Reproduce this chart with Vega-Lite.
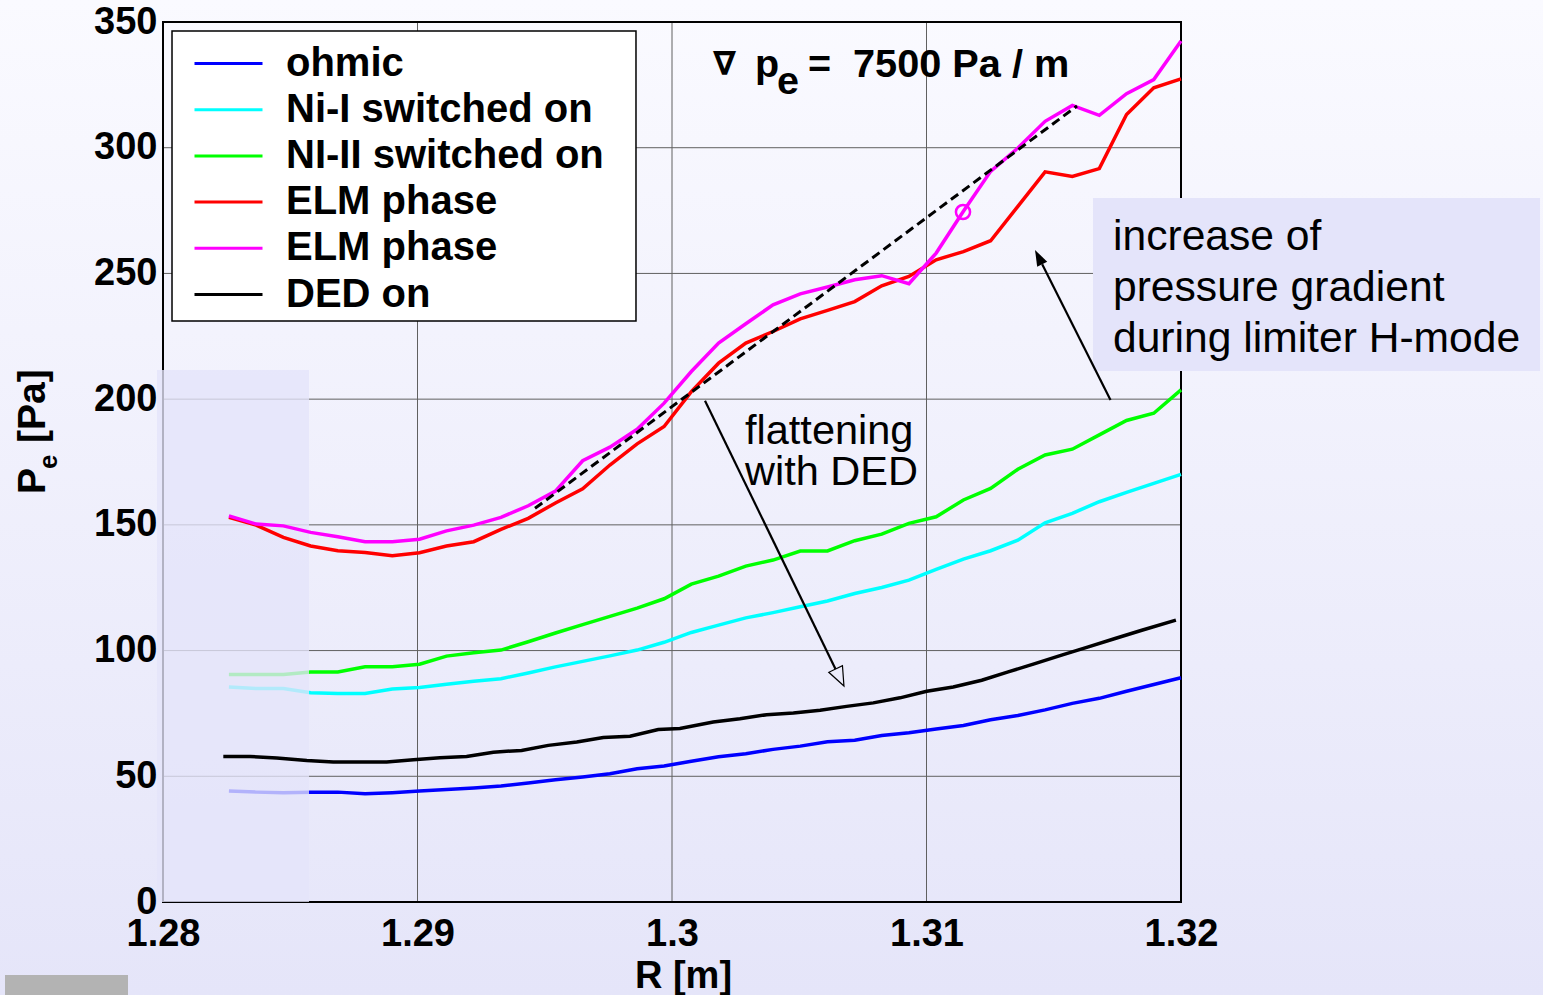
{
  "$schema": "https://vega.github.io/schema/vega-lite/v6.json",
  "width": 1018,
  "height": 880,
  "autosize": {"type": "none"},
  "padding": {"left": 163, "top": 22, "right": 362, "bottom": 93},
  "background": "#E6E6FA",
  "config": {
    "view": {"stroke": null},
    "font": "Liberation Sans",
    "axis": {
      "grid": false, "domain": false, "ticks": false,
      "labelFont": "Liberation Sans", "labelFontSize": 38, "labelFontWeight": "bold", "labelColor": "#000",
      "titleFont": "Liberation Sans", "titleFontSize": 38, "titleFontWeight": "bold", "titleColor": "#000"
    }
  },
  "data": {"values": [{}]},
  "datasets": {
    "curves": [
      {"s":"ohmic","R":1.28259,"P":44.1},{"s":"ohmic","R":1.28366,"P":43.7},{"s":"ohmic","R":1.28473,"P":43.5},{"s":"ohmic","R":1.2858,"P":43.7},{"s":"ohmic","R":1.28687,"P":43.7},{"s":"ohmic","R":1.28794,"P":43.1},{"s":"ohmic","R":1.28901,"P":43.5},{"s":"ohmic","R":1.29008,"P":44.1},{"s":"ohmic","R":1.29114,"P":44.7},{"s":"ohmic","R":1.29221,"P":45.3},{"s":"ohmic","R":1.29328,"P":46.1},{"s":"ohmic","R":1.29435,"P":47.3},{"s":"ohmic","R":1.29542,"P":48.6},{"s":"ohmic","R":1.29649,"P":49.7},{"s":"ohmic","R":1.29756,"P":51.0},{"s":"ohmic","R":1.29863,"P":53.0},{"s":"ohmic","R":1.29969,"P":54.1},{"s":"ohmic","R":1.30076,"P":56.0},{"s":"ohmic","R":1.30183,"P":57.8},{"s":"ohmic","R":1.3029,"P":59.0},{"s":"ohmic","R":1.30397,"P":60.7},{"s":"ohmic","R":1.30504,"P":62.0},{"s":"ohmic","R":1.30611,"P":63.7},{"s":"ohmic","R":1.30718,"P":64.3},{"s":"ohmic","R":1.30824,"P":66.2},{"s":"ohmic","R":1.30931,"P":67.3},{"s":"ohmic","R":1.31038,"P":68.8},{"s":"ohmic","R":1.31145,"P":70.2},{"s":"ohmic","R":1.31252,"P":72.5},{"s":"ohmic","R":1.31359,"P":74.2},{"s":"ohmic","R":1.31466,"P":76.4},{"s":"ohmic","R":1.31573,"P":79.0},{"s":"ohmic","R":1.31679,"P":81.0},{"s":"ohmic","R":1.31786,"P":83.8},{"s":"ohmic","R":1.31893,"P":86.5},{"s":"ohmic","R":1.32,"P":89.2},
      {"s":"Ni-I switched on","R":1.28259,"P":85.5},{"s":"Ni-I switched on","R":1.28366,"P":84.9},{"s":"Ni-I switched on","R":1.28473,"P":84.9},{"s":"Ni-I switched on","R":1.2858,"P":83.2},{"s":"Ni-I switched on","R":1.28687,"P":82.9},{"s":"Ni-I switched on","R":1.28794,"P":82.9},{"s":"Ni-I switched on","R":1.28901,"P":84.7},{"s":"Ni-I switched on","R":1.29008,"P":85.3},{"s":"Ni-I switched on","R":1.29114,"P":86.6},{"s":"Ni-I switched on","R":1.29221,"P":87.8},{"s":"Ni-I switched on","R":1.29328,"P":88.8},{"s":"Ni-I switched on","R":1.29435,"P":91.1},{"s":"Ni-I switched on","R":1.29542,"P":93.5},{"s":"Ni-I switched on","R":1.29649,"P":95.7},{"s":"Ni-I switched on","R":1.29756,"P":97.9},{"s":"Ni-I switched on","R":1.29863,"P":100.2},{"s":"Ni-I switched on","R":1.29969,"P":103.3},{"s":"Ni-I switched on","R":1.30076,"P":107.2},{"s":"Ni-I switched on","R":1.30183,"P":110.1},{"s":"Ni-I switched on","R":1.3029,"P":113.0},{"s":"Ni-I switched on","R":1.30397,"P":115.1},{"s":"Ni-I switched on","R":1.30504,"P":117.4},{"s":"Ni-I switched on","R":1.30611,"P":119.7},{"s":"Ni-I switched on","R":1.30718,"P":122.7},{"s":"Ni-I switched on","R":1.30824,"P":125.1},{"s":"Ni-I switched on","R":1.30931,"P":128.0},{"s":"Ni-I switched on","R":1.31038,"P":132.3},{"s":"Ni-I switched on","R":1.31145,"P":136.4},{"s":"Ni-I switched on","R":1.31252,"P":139.7},{"s":"Ni-I switched on","R":1.31359,"P":143.9},{"s":"Ni-I switched on","R":1.31466,"P":150.8},{"s":"Ni-I switched on","R":1.31573,"P":154.6},{"s":"Ni-I switched on","R":1.31679,"P":159.2},{"s":"Ni-I switched on","R":1.31786,"P":162.9},{"s":"Ni-I switched on","R":1.31893,"P":166.5},{"s":"Ni-I switched on","R":1.32,"P":170.1},
      {"s":"NI-II switched on","R":1.28259,"P":90.5},{"s":"NI-II switched on","R":1.28366,"P":90.5},{"s":"NI-II switched on","R":1.28473,"P":90.5},{"s":"NI-II switched on","R":1.2858,"P":91.5},{"s":"NI-II switched on","R":1.28687,"P":91.5},{"s":"NI-II switched on","R":1.28794,"P":93.6},{"s":"NI-II switched on","R":1.28901,"P":93.6},{"s":"NI-II switched on","R":1.29008,"P":94.6},{"s":"NI-II switched on","R":1.29114,"P":97.8},{"s":"NI-II switched on","R":1.29221,"P":99.1},{"s":"NI-II switched on","R":1.29328,"P":100.2},{"s":"NI-II switched on","R":1.29435,"P":103.5},{"s":"NI-II switched on","R":1.29542,"P":107.0},{"s":"NI-II switched on","R":1.29649,"P":110.3},{"s":"NI-II switched on","R":1.29756,"P":113.6},{"s":"NI-II switched on","R":1.29863,"P":116.9},{"s":"NI-II switched on","R":1.29969,"P":120.6},{"s":"NI-II switched on","R":1.30076,"P":126.4},{"s":"NI-II switched on","R":1.30183,"P":129.6},{"s":"NI-II switched on","R":1.3029,"P":133.6},{"s":"NI-II switched on","R":1.30397,"P":136.0},{"s":"NI-II switched on","R":1.30504,"P":139.6},{"s":"NI-II switched on","R":1.30611,"P":139.6},{"s":"NI-II switched on","R":1.30718,"P":143.7},{"s":"NI-II switched on","R":1.30824,"P":146.3},{"s":"NI-II switched on","R":1.30931,"P":150.6},{"s":"NI-II switched on","R":1.31038,"P":153.2},{"s":"NI-II switched on","R":1.31145,"P":159.9},{"s":"NI-II switched on","R":1.31252,"P":164.5},{"s":"NI-II switched on","R":1.31359,"P":172.1},{"s":"NI-II switched on","R":1.31466,"P":177.8},{"s":"NI-II switched on","R":1.31573,"P":180.1},{"s":"NI-II switched on","R":1.31679,"P":185.8},{"s":"NI-II switched on","R":1.31786,"P":191.5},{"s":"NI-II switched on","R":1.31893,"P":194.4},{"s":"NI-II switched on","R":1.32,"P":203.7},
      {"s":"ELM phase (1)","R":1.28259,"P":153.0},{"s":"ELM phase (1)","R":1.28366,"P":149.9},{"s":"ELM phase (1)","R":1.28473,"P":145.0},{"s":"ELM phase (1)","R":1.2858,"P":141.6},{"s":"ELM phase (1)","R":1.28687,"P":139.7},{"s":"ELM phase (1)","R":1.28794,"P":139.0},{"s":"ELM phase (1)","R":1.28901,"P":137.7},{"s":"ELM phase (1)","R":1.29008,"P":138.9},{"s":"ELM phase (1)","R":1.29114,"P":141.6},{"s":"ELM phase (1)","R":1.29221,"P":143.3},{"s":"ELM phase (1)","R":1.29328,"P":148.2},{"s":"ELM phase (1)","R":1.29435,"P":152.6},{"s":"ELM phase (1)","R":1.29542,"P":158.7},{"s":"ELM phase (1)","R":1.29649,"P":164.3},{"s":"ELM phase (1)","R":1.29756,"P":173.8},{"s":"ELM phase (1)","R":1.29863,"P":182.2},{"s":"ELM phase (1)","R":1.29969,"P":189.1},{"s":"ELM phase (1)","R":1.30076,"P":203.0},{"s":"ELM phase (1)","R":1.30183,"P":214.3},{"s":"ELM phase (1)","R":1.3029,"P":222.3},{"s":"ELM phase (1)","R":1.30397,"P":226.9},{"s":"ELM phase (1)","R":1.30504,"P":231.9},{"s":"ELM phase (1)","R":1.30611,"P":235.3},{"s":"ELM phase (1)","R":1.30718,"P":238.8},{"s":"ELM phase (1)","R":1.30824,"P":245.1},{"s":"ELM phase (1)","R":1.30931,"P":248.8},{"s":"ELM phase (1)","R":1.31038,"P":255.4},{"s":"ELM phase (1)","R":1.31145,"P":258.7},{"s":"ELM phase (1)","R":1.31252,"P":263.0},{"s":"ELM phase (1)","R":1.31359,"P":276.7},{"s":"ELM phase (1)","R":1.31466,"P":290.4},{"s":"ELM phase (1)","R":1.31573,"P":288.6},{"s":"ELM phase (1)","R":1.31679,"P":291.7},{"s":"ELM phase (1)","R":1.31786,"P":313.2},{"s":"ELM phase (1)","R":1.31893,"P":323.8},{"s":"ELM phase (1)","R":1.32,"P":327.4},
      {"s":"ELM phase (2)","R":1.28259,"P":153.6},{"s":"ELM phase (2)","R":1.28366,"P":150.3},{"s":"ELM phase (2)","R":1.28473,"P":149.6},{"s":"ELM phase (2)","R":1.2858,"P":147.0},{"s":"ELM phase (2)","R":1.28687,"P":145.3},{"s":"ELM phase (2)","R":1.28794,"P":143.3},{"s":"ELM phase (2)","R":1.28901,"P":143.3},{"s":"ELM phase (2)","R":1.29008,"P":144.3},{"s":"ELM phase (2)","R":1.29114,"P":147.6},{"s":"ELM phase (2)","R":1.29221,"P":149.9},{"s":"ELM phase (2)","R":1.29328,"P":153.0},{"s":"ELM phase (2)","R":1.29435,"P":157.6},{"s":"ELM phase (2)","R":1.29542,"P":163.4},{"s":"ELM phase (2)","R":1.29649,"P":175.5},{"s":"ELM phase (2)","R":1.29756,"P":180.9},{"s":"ELM phase (2)","R":1.29863,"P":188.0},{"s":"ELM phase (2)","R":1.29969,"P":198.4},{"s":"ELM phase (2)","R":1.30076,"P":211.0},{"s":"ELM phase (2)","R":1.30183,"P":222.3},{"s":"ELM phase (2)","R":1.3029,"P":230.0},{"s":"ELM phase (2)","R":1.30397,"P":237.5},{"s":"ELM phase (2)","R":1.30504,"P":241.9},{"s":"ELM phase (2)","R":1.30611,"P":244.6},{"s":"ELM phase (2)","R":1.30718,"P":247.5},{"s":"ELM phase (2)","R":1.30824,"P":249.1},{"s":"ELM phase (2)","R":1.30931,"P":245.9},{"s":"ELM phase (2)","R":1.31038,"P":258.1},{"s":"ELM phase (2)","R":1.31145,"P":274.7},{"s":"ELM phase (2)","R":1.31252,"P":290.6},{"s":"ELM phase (2)","R":1.31359,"P":299.9},{"s":"ELM phase (2)","R":1.31466,"P":310.5},{"s":"ELM phase (2)","R":1.31573,"P":316.8},{"s":"ELM phase (2)","R":1.31679,"P":312.9},{"s":"ELM phase (2)","R":1.31786,"P":321.5},{"s":"ELM phase (2)","R":1.31893,"P":327.1},{"s":"ELM phase (2)","R":1.32,"P":342.4},
      {"s":"DED on","R":1.28237,"P":57.9},{"s":"DED on","R":1.28342,"P":57.9},{"s":"DED on","R":1.28447,"P":57.3},{"s":"DED on","R":1.28565,"P":56.3},{"s":"DED on","R":1.28669,"P":55.7},{"s":"DED on","R":1.28774,"P":55.7},{"s":"DED on","R":1.28879,"P":55.7},{"s":"DED on","R":1.28984,"P":56.6},{"s":"DED on","R":1.29088,"P":57.4},{"s":"DED on","R":1.29193,"P":57.9},{"s":"DED on","R":1.29298,"P":59.6},{"s":"DED on","R":1.29409,"P":60.3},{"s":"DED on","R":1.29514,"P":62.3},{"s":"DED on","R":1.29626,"P":63.6},{"s":"DED on","R":1.2973,"P":65.4},{"s":"DED on","R":1.29835,"P":65.9},{"s":"DED on","R":1.29946,"P":68.6},{"s":"DED on","R":1.30031,"P":69.0},{"s":"DED on","R":1.30162,"P":71.6},{"s":"DED on","R":1.30267,"P":72.9},{"s":"DED on","R":1.30372,"P":74.5},{"s":"DED on","R":1.30477,"P":75.2},{"s":"DED on","R":1.30582,"P":76.3},{"s":"DED on","R":1.30686,"P":77.8},{"s":"DED on","R":1.30791,"P":79.2},{"s":"DED on","R":1.30896,"P":81.2},{"s":"DED on","R":1.31001,"P":83.8},{"s":"DED on","R":1.31105,"P":85.5},{"s":"DED on","R":1.31217,"P":88.2},{"s":"DED on","R":1.31321,"P":91.5},{"s":"DED on","R":1.31426,"P":94.8},{"s":"DED on","R":1.31531,"P":98.2},{"s":"DED on","R":1.31636,"P":101.5},{"s":"DED on","R":1.31741,"P":104.8},{"s":"DED on","R":1.31846,"P":108.1},{"s":"DED on","R":1.3198,"P":112.1}
    ]
  },
  "layer": [
    {
      "mark": {"type": "rect", "fill": {"gradient": "linear", "x1": 0, "y1": 0, "x2": 0, "y2": 1, "stops": [{"offset": 0, "color": "#FAFAFF"}, {"offset": 1, "color": "#E5E5F9"}]}},
      "encoding": {
        "x": {"datum": 1.273595, "type": "quantitative", "scale": {"domain": [1.28, 1.32], "nice": false, "zero": false},
              "axis": {"zindex": 1, "values": [1.28, 1.29, 1.3, 1.31, 1.32], "format": ".2~f", "labelPadding": 13, "labelFlush": false, "labelOverlap": false,
                       "title": "R [m]", "titleX": 520, "titleY": 85, "titleBaseline": "alphabetic", "titleAlign": "center"}},
        "x2": {"datum": 1.334224},
        "y": {"datum": 358.75, "type": "quantitative", "scale": {"domain": [0, 350], "nice": false, "zero": false},
              "axis": {"zindex": 1, "values": [0, 50, 100, 150, 200, 250, 300, 350], "format": "d", "labelPadding": 6, "labelOverlap": false, "title": null}},
        "y2": {"datum": -36.99}
      }
    },
    {
      "data": {"values": [{"g": 1.29}, {"g": 1.3}, {"g": 1.31}]},
      "mark": {"type": "rule", "color": "#606060", "strokeWidth": 1},
      "encoding": {"x": {"field": "g", "type": "quantitative"}, "y": {"datum": 0}, "y2": {"datum": 350}}
    },
    {
      "data": {"values": [{"h": 50}, {"h": 100}, {"h": 150}, {"h": 200}, {"h": 250}, {"h": 300}]},
      "mark": {"type": "rule", "color": "#606060", "strokeWidth": 1},
      "encoding": {"y": {"field": "h", "type": "quantitative"}, "x": {"datum": 1.28}, "x2": {"datum": 1.32}}
    },
    {
      "mark": {"type": "rect", "filled": false, "stroke": "#000", "strokeWidth": 2},
      "encoding": {"x": {"datum": 1.28}, "x2": {"datum": 1.32}, "y": {"datum": 0}, "y2": {"datum": 350}}
    },
    {
      "data": {"name": "curves"},
      "transform": [{"filter": {"field": "s", "oneOf": ["ohmic", "Ni-I switched on", "NI-II switched on"]}}],
      "mark": {"type": "line", "strokeWidth": 3.5},
      "encoding": {
        "x": {"field": "R", "type": "quantitative"},
        "y": {"field": "P", "type": "quantitative"},
        "color": {"field": "s", "type": "nominal",
          "scale": {"domain": ["ohmic", "Ni-I switched on", "NI-II switched on", "ELM phase (1)", "ELM phase (2)", "DED on"], "range": ["#0000FF", "#00FFFF", "#00FF00", "#FF0000", "#FF00FF", "#000000"]},
          "legend": {"title": null, "orient": "none", "legendX": 45.5, "legendY": 21.5, "symbolType": "M-2,0L2,0", "symbolSize": 1156, "symbolStrokeWidth": 3,
                     "labelFont": "Liberation Sans", "labelFontSize": 40, "labelFontWeight": "bold", "labelColor": "#000", "labelOffset": 37.5,
                     "rowPadding": 6.2, "padding": 0, "labelLimit": 600,
                     "labelExpr": "datum.label == 'ELM phase (1)' || datum.label == 'ELM phase (2)' ? 'ELM phase' : datum.label"}}
      }
    },
    {
      "mark": {"type": "rect", "fill": "#E4E4FA", "opacity": 0.78},
      "encoding": {"x": {"datum": 1.279764}, "x2": {"datum": 1.285737}, "y": {"datum": 0}, "y2": {"datum": 211.59}}
    },
    {
      "data": {"name": "curves"},
      "transform": [{"filter": {"field": "s", "oneOf": ["ELM phase (1)", "ELM phase (2)", "DED on"]}}],
      "mark": {"type": "line", "strokeWidth": 3.5},
      "encoding": {
        "x": {"field": "R", "type": "quantitative"},
        "y": {"field": "P", "type": "quantitative"},
        "color": {"field": "s", "type": "nominal",
          "scale": {"domain": ["ohmic", "Ni-I switched on", "NI-II switched on", "ELM phase (1)", "ELM phase (2)", "DED on"], "range": ["#0000FF", "#00FFFF", "#00FF00", "#FF0000", "#FF00FF", "#000000"]},
          "legend": {"title": null, "orient": "none", "legendX": 45.5, "legendY": 21.5, "symbolType": "M-2,0L2,0", "symbolSize": 1156, "symbolStrokeWidth": 3,
                     "labelFont": "Liberation Sans", "labelFontSize": 40, "labelFontWeight": "bold", "labelColor": "#000", "labelOffset": 37.5,
                     "rowPadding": 6.2, "padding": 0, "labelLimit": 600,
                     "labelExpr": "datum.label == 'ELM phase (1)' || datum.label == 'ELM phase (2)' ? 'ELM phase' : datum.label"}}
      }
    },
    {
      "mark": {"type": "rule", "color": "#000", "strokeWidth": 3, "strokeDash": [9, 5]},
      "encoding": {"x": {"datum": 1.294617}, "y": {"datum": 156.59}, "x2": {"datum": 1.315914}, "y2": {"datum": 316.59}}
    },
    {
      "mark": {"type": "point", "shape": "circle", "size": 200, "filled": false, "stroke": "#FF00FF", "strokeWidth": 2.5, "opacity": 1},
      "encoding": {"x": {"datum": 1.311434}, "y": {"datum": 274.43}}
    },
    {
      "mark": {"type": "rect", "fill": "#FFFFFF", "stroke": "#000", "strokeWidth": 1.5},
      "encoding": {"x": {"datum": 1.280354}, "x2": {"datum": 1.298585}, "y": {"datum": 346.42}, "y2": {"datum": 231.08}}
    },
    {
      "mark": {"type": "rule", "color": "#000", "strokeWidth": 2.2},
      "encoding": {"x": {"datum": 1.301297}, "y": {"datum": 199.38}, "x2": {"datum": 1.306424}, "y2": {"datum": 92.67}}
    },
    {
      "mark": {"type": "point", "shape": "M0,-1L-0.8,1L0.8,1Z", "size": 361, "angle": 154, "filled": false, "stroke": "#000", "strokeWidth": 1.2, "opacity": 1},
      "encoding": {"x": {"datum": 1.306593}, "y": {"datum": 89.29}}
    },
    {
      "mark": {"type": "rect", "fill": "#E4E4FA"},
      "encoding": {"x": {"datum": 1.316542}, "x2": {"datum": 1.334106}, "y": {"datum": 280.0}, "y2": {"datum": 211.19}}
    },
    {
      "mark": {"type": "rule", "color": "#000", "strokeWidth": 2.2},
      "encoding": {"x": {"datum": 1.31723}, "y": {"datum": 199.66}, "x2": {"datum": 1.314546}, "y2": {"datum": 253.63}}
    },
    {
      "mark": {"type": "point", "shape": "M0,-1L-0.7,1L0.7,1Z", "size": 256, "angle": 333.3, "filled": true, "fill": "#000", "opacity": 1},
      "encoding": {"x": {"datum": 1.314405}, "y": {"datum": 256.49}}
    },
    {
      "mark": {"type": "text", "text": ["flattening", "with DED"], "align": "left", "baseline": "alphabetic", "font": "Liberation Sans", "fontSize": 41.5, "lineHeight": 41, "color": "#000"},
      "encoding": {"x": {"datum": 1.302868}, "y": {"datum": 182.16}}
    },
    {
      "mark": {"type": "text", "text": ["increase of", "pressure gradient", "during limiter H-mode"], "align": "left", "baseline": "alphabetic", "font": "Liberation Sans", "fontSize": 42.6, "lineHeight": 51, "color": "#000"},
      "encoding": {"x": {"datum": 1.317328}, "y": {"datum": 259.32}}
    },
    {
      "mark": {"type": "text", "text": "∇", "align": "left", "baseline": "alphabetic", "font": "DejaVu Sans", "fontSize": 33, "fontWeight": "bold", "color": "#000"},
      "encoding": {"x": {"datum": 1.301611}, "y": {"datum": 328.9}}
    },
    {
      "mark": {"type": "text", "text": "p", "align": "left", "baseline": "alphabetic", "font": "Liberation Sans", "fontSize": 39.5, "fontWeight": "bold", "color": "#000"},
      "encoding": {"x": {"datum": 1.303261}, "y": {"datum": 328.12}}
    },
    {
      "mark": {"type": "text", "text": "e", "align": "left", "baseline": "alphabetic", "font": "Liberation Sans", "fontSize": 39.5, "fontWeight": "bold", "color": "#000"},
      "encoding": {"x": {"datum": 1.304126}, "y": {"datum": 321.2}}
    },
    {
      "mark": {"type": "text", "text": "=", "align": "left", "baseline": "alphabetic", "font": "Liberation Sans", "fontSize": 39.5, "fontWeight": "bold", "color": "#000"},
      "encoding": {"x": {"datum": 1.305344}, "y": {"datum": 328.12}}
    },
    {
      "mark": {"type": "text", "text": "7500 Pa / m", "align": "left", "baseline": "alphabetic", "font": "Liberation Sans", "fontSize": 39.7, "fontWeight": "bold", "color": "#000"},
      "encoding": {"x": {"datum": 1.307112}, "y": {"datum": 328.12}}
    },
    {
      "mark": {"type": "text", "text": "P", "angle": 270, "align": "left", "baseline": "alphabetic", "font": "Liberation Sans", "fontSize": 39, "fontWeight": "bold", "color": "#000"},
      "encoding": {"x": {"datum": 1.275364}, "y": {"datum": 162.27}}
    },
    {
      "mark": {"type": "text", "text": "e", "angle": 270, "align": "left", "baseline": "alphabetic", "font": "Liberation Sans", "fontSize": 26, "fontWeight": "bold", "color": "#000"},
      "encoding": {"x": {"datum": 1.275835}, "y": {"datum": 172.22}}
    },
    {
      "mark": {"type": "text", "text": "[Pa]", "angle": 270, "align": "left", "baseline": "alphabetic", "font": "Liberation Sans", "fontSize": 39, "fontWeight": "bold", "color": "#000"},
      "encoding": {"x": {"datum": 1.275364}, "y": {"datum": 182.56}}
    },
    {
      "mark": {"type": "rect", "fill": "#B3B3B3"},
      "encoding": {"x": {"datum": 1.273792}, "x2": {"datum": 1.278625}, "y": {"datum": -29.03}, "y2": {"datum": -36.99}}
    }
  ]
}
